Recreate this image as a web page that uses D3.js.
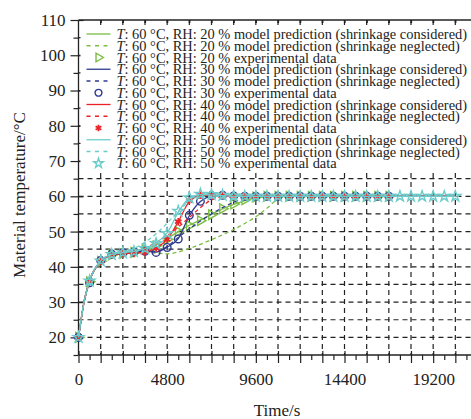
<!DOCTYPE html>
<html>
<head>
<meta charset="utf-8">
<script src="https://cdn.jsdelivr.net/npm/d3@7"></script>
<style>
  body { margin: 0; background: #fff; }
  text { font-family: "Liberation Serif", "Times New Roman", serif; fill: #222; }
</style>
</head>
<body>
<svg class="chart"></svg>
<script>
// experimental sampling times (s)
var expTime = [0, 600, 1200, 1800, 2400, 3000, 3600, 4200, 4800, 5400, 6000, 6600, 7200, 7800, 8400,
  9000, 9600, 10200, 10800, 11400, 12000, 12600, 13200, 13800, 14400, 15000, 15600, 16200, 16800];
var expTime50 = expTime.concat([17400, 18000, 18600, 19200, 19800, 20400]);

var exp20 = [20, 35.8, 41.6, 43.4, 43.8, 44.1, 45, 46, 47.8, 50, 51.7, 53.1, 54.8, 56.5, 57.8,
  59, 59.8, 60, 60, 60, 60, 60, 60, 60, 60, 60, 60, 60, 60];
var exp30 = [20, 35.5, 41.8, 43.6, 44, 44.2, 44.4, 44.1, 45.5, 47.9, 54.6, 58.6, 60.2, 60.3, 60.1,
  60, 60, 60, 60, 60, 60, 60, 60, 60, 60, 60, 60, 60, 60];
var exp40 = [20, 36, 41.5, 43.5, 43.8, 43.8, 44.2, 45.3, 47.8, 52.8, 58.8, 60.3, 60.5, 60.4, 60.2,
  60.1, 60, 60, 60, 60, 60, 60, 60, 60, 60, 60, 60, 60, 60];
var exp50 = [20, 36, 41.7, 43.5, 44, 44.3, 45.2, 46.6, 49.5, 55.8, 59.6, 60.6, 60.5, 60.3, 60.1,
  60, 60, 60, 60, 60, 60, 60, 60, 60, 60, 60, 60, 60, 60, 60, 60, 60, 60, 60, 60];

// model output times (s)
var modelTime = [0, 300, 600, 1200, 1800, 2400, 3000, 3600, 4200, 4800, 5400, 6000, 6600, 7200, 7800,
  8400, 9000, 9600, 10200, 10800, 11400, 12000, 16800, 20400];

var cons20 = [20, 30, 36, 41.5, 43.3, 43.8, 44.2, 45, 46.2, 48, 50, 51.8, 53.3, 54.9, 56.4,
  57.7, 58.8, 59.6, 60, 60, 60, 60, 60, 60];
var negl20 = [20, 30, 36, 41.5, 43.3, 43.7, 43.9, 44, 43.9, 43.7, 44.2, 45.2, 46.4, 47.7, 49.1,
  50.6, 52.3, 54.2, 56.6, 59.2, 60, 60, 60, 60];
var cons30 = [20, 30, 36, 41.6, 43.4, 43.9, 44.2, 44.4, 44.2, 45.6, 48, 54.5, 58.5, 60, 60.1,
  60, 60, 60, 60, 60, 60, 60, 60, 60];
var negl30 = [20, 30, 36, 41.6, 43.4, 43.9, 44.1, 44.2, 44.3, 45.8, 48.3, 50.8, 53, 55, 56.8,
  58.3, 59.5, 60, 60, 60, 60, 60, 60, 60];
var cons40 = [20, 30, 36, 41.5, 43.4, 43.8, 43.9, 44.2, 45.3, 47.8, 52.8, 58.5, 60.2, 60.3, 60.2,
  60, 60, 60, 60, 60, 60, 60, 60, 60];
var negl40 = [20, 30, 36, 41.5, 43.4, 43.9, 44.4, 45.4, 46.8, 48.8, 51.3, 54, 56.8, 59, 60,
  60, 60, 60, 60, 60, 60, 60, 60, 60];
var cons50 = [20, 30, 36, 41.7, 43.5, 44, 44.4, 45.2, 46.8, 49.6, 55.5, 59.5, 60.5, 60.4, 60.2,
  60, 60, 60, 60, 60, 60, 60, 60, 60];
var negl50 = [20, 30, 36, 41.7, 43.6, 44.2, 45.2, 47, 49.4, 52.4, 55.7, 58.6, 60, 60, 60,
  60, 60, 60, 60, 60, 60, 60, 60, 60];

var rhLevels = ["20", "30", "40", "50"];
var seriesColors = ["#7cbd43", "#2e3a8f", "#ec2227", "#6ccccb"];

var margin = {top: 20, right: 0, bottom: 64, left: 78.5},
    width = 471 - margin.left,
    height = 419 - margin.top - margin.bottom;

var svg = d3.select(".chart")
    .attr("width", 471)
    .attr("height", 419);

var chart = svg.append("g")
    .attr("transform", "translate(" + margin.left + "," + margin.top + ")");

var x = d3.scaleLinear().domain([0, 21600]).range([0, 399]);
var y = d3.scaleLinear().domain([15, 110]).range([height, 0]);

// dashed grid
var grid = chart.append("g").attr("class", "grid");
grid.selectAll(".vgrid")
    .data(d3.range(1200, 21601, 1200))
  .enter().append("line")
    .attr("x1", d => x(d)).attr("x2", d => x(d))
    .attr("y1", 0).attr("y2", height)
    .attr("stroke", "#222").attr("stroke-width", 1.2).attr("stroke-dasharray", "5,4");
grid.selectAll(".hgrid")
    .data(d3.range(20, 110, 5))
  .enter().append("line")
    .attr("x1", 0).attr("x2", width)
    .attr("y1", d => y(d)).attr("y2", d => y(d))
    .attr("stroke", "#222").attr("stroke-width", 1.2).attr("stroke-dasharray", "5,4");

// axes
function styleAxis(g) {
  g.select(".domain").remove();
  g.selectAll(".tick line").attr("stroke", "#222").attr("stroke-width", 1.2);
  g.selectAll(".tick text").style("font-size", "17px").style("font-family", "Liberation Serif");
}

var xMinor = chart.append("g")
    .attr("transform", "translate(0," + height + ")")
    .call(d3.axisBottom(x).tickValues(d3.range(600, 21600, 1200)).tickSize(5).tickFormat(""));
styleAxis(xMinor);

var xMajor = chart.append("g")
    .attr("transform", "translate(0," + height + ")")
    .call(d3.axisBottom(x).tickValues(d3.range(0, 21601, 1200)).tickSize(8).tickPadding(10)
      .tickFormat(d => d % 4800 === 0 ? d : ""));
styleAxis(xMajor);
xMajor.selectAll(".tick line").attr("y1", -4);

var xTop = chart.append("g")
    .call(d3.axisTop(x).tickValues(d3.range(1200, 21601, 1200)).tickSize(-5).tickFormat(""));
styleAxis(xTop);

var yMinor = chart.append("g")
    .call(d3.axisLeft(y).tickValues(d3.range(15, 110, 10)).tickSize(5).tickFormat(""));
styleAxis(yMinor);

var yMajor = chart.append("g")
    .call(d3.axisLeft(y).tickValues(d3.range(20, 111, 10)).tickSize(8).tickPadding(5));
styleAxis(yMajor);
yMajor.selectAll(".tick line").attr("x1", 5);

chart.append("line").attr("x1", 0).attr("x2", width).attr("y1", height).attr("y2", height)
    .attr("stroke", "#222").attr("stroke-width", 1.3);
chart.append("line").attr("x1", 0).attr("x2", width).attr("y1", 0).attr("y2", 0)
    .attr("stroke", "#222").attr("stroke-width", 1.3);
chart.append("line").attr("x1", 0).attr("x2", 0).attr("y1", 0).attr("y2", height)
    .attr("stroke", "#222").attr("stroke-width", 1.3);

// series
var modelSets = [[cons20, negl20], [cons30, negl30], [cons40, negl40], [cons50, negl50]];
var expSets = [exp20, exp30, exp40, exp50];
var expTimes = [expTime, expTime, expTime, expTime50];

var symbols = [
  d3.symbol().type(d3.symbolTriangle).size(40),
  d3.symbol().type(d3.symbolCircle).size(46),
  d3.symbol().type(d3.symbolAsterisk).size(38),
  d3.symbol().type(d3.symbolStar).size(36)
];
var symRotate = [90, 0, 0, 0];

var lineGenerator = d3.line()
    .x(d => x(d.t))
    .y(d => y(d.v))
    .curve(d3.curveMonotoneX);

var seriesG = chart.append("g");
rhLevels.forEach(function (rh, i) {
  var col = seriesColors[i];
  var g = seriesG.append("g");
  modelSets[i].forEach(function (vals, k) {
    g.append("path")
        .attr("d", lineGenerator(modelTime.map((t, j) => ({t: t, v: vals[j]}))))
        .attr("fill", "none")
        .attr("stroke", col)
        .attr("stroke-width", 1.3)
        .attr("stroke-dasharray", k === 1 ? "4,3" : null);
  });
  var pts = expTimes[i].map((t, j) => ({t: t, v: expSets[i][j]}));
  g.selectAll(".pt")
      .data(pts)
    .enter().append("path")
      .attr("d", symbols[i])
      .attr("transform", d => "translate(" + x(d.t) + "," + y(d.v) + ") rotate(" + symRotate[i] + ")")
      .attr("fill", "none")
      .attr("stroke", col)
      .attr("stroke-width", i === 2 ? 1.8 : 1.4);
});

// legend
var legendLabels = [];
rhLevels.forEach(function (rh) {
  legendLabels.push({rh: rh, txt: " model prediction (shrinkage considered)", kind: "solid"});
  legendLabels.push({rh: rh, txt: " model prediction (shrinkage neglected)", kind: "dash"});
  legendLabels.push({rh: rh, txt: " experimental data", kind: "mark"});
});

var legend = chart.append("g");
legend.append("rect")
    .attr("x", 2).attr("y", 3).attr("width", width).attr("height", 148)
    .attr("fill", "#fff");
// top ticks over legend
legend.selectAll(".tt")
    .data(d3.range(1200, 21601, 1200))
  .enter().append("line")
    .attr("x1", d => x(d)).attr("x2", d => x(d)).attr("y1", 0).attr("y2", 5)
    .attr("stroke", "#222").attr("stroke-width", 1.2);

var rows = legend.selectAll(".row")
    .data(legendLabels)
  .enter().append("g")
    .attr("transform", (d, i) => "translate(0," + (14 + i * 11.75) + ")");

rows.each(function (d, i) {
  var s = Math.floor(i / 3);
  var row = d3.select(this);
  if (d.kind === "mark") {
    row.append("path")
        .attr("d", d3.symbol().type(symbols[s].type()).size(symbols[s].size()() * 0.8))
        .attr("transform", "translate(20,0) rotate(" + symRotate[s] + ")")
        .attr("fill", "none")
        .attr("stroke", seriesColors[s])
        .attr("stroke-width", s === 2 ? 1.8 : 1.4);
  } else {
    row.append("line")
        .attr("x1", 8).attr("x2", 32).attr("y1", 0).attr("y2", 0)
        .attr("stroke", seriesColors[s])
        .attr("stroke-width", 1.3)
        .attr("stroke-dasharray", d.kind === "dash" ? "4,4.5" : null);
  }
  var t = row.append("text")
      .attr("transform", "translate(38,5) scale(0.93,1)")
      .style("font-size", "15.5px");
  t.append("tspan").style("font-style", "italic").text("T");
  t.append("tspan").text(": 60 \u00b0C, RH: " + d.rh + " %" + d.txt);
});

// axis titles
svg.append("text")
    .attr("x", 277).attr("y", 416)
    .attr("text-anchor", "middle")
    .style("font-size", "17px")
    .text("Time/s");

svg.append("text")
    .attr("transform", "translate(25," + 195 + ") rotate(-90)")
    .attr("text-anchor", "middle")
    .style("font-size", "17px")
    .text("Material temperature/\u00b0C");
</script>
</body>
</html>
